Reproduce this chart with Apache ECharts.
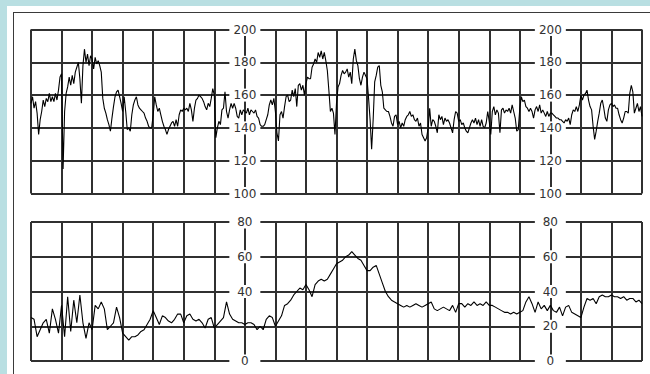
<!DOCTYPE html>
<html>
<head>
<meta charset="utf-8">
<script src="https://cdn.jsdelivr.net/npm/echarts@6/dist/echarts.min.js"></script>
<style>
  html, body { margin: 0; padding: 0; background: #b9dfe2; }
  #paper { position: absolute; left: 7px; top: 6px; width: 700px; height: 400px; background: #fff; }
  #frame { position: absolute; left: 13px; top: 11.5px; width: 700px; height: 400px; border: 1.5px solid #3a3a3a; }
  #box { position: absolute; left: 0; top: 0; width: 650px; height: 374px; }
</style>
</head>
<body>
<div id="paper"></div>
<div id="frame"></div>
<div id="box"></div>
<script>
// fetal heart rate (bpm), one value every 0.05 min, 0 -> 20 min
var fhrStep = 0.05;
var fhr = [
  155, 159, 152, 156, 149, 136, 145, 150, 157, 153, 158, 156, 161, 156, 159, 156, 161, 157, 163, 171,
  173, 115, 150, 161, 165, 171, 166, 172, 167, 174, 177, 180, 170, 155, 178, 188, 180, 185, 178, 184,
  182, 176, 183, 179, 181, 178, 174, 158, 152, 149, 145, 142, 138, 146, 153, 159, 162, 163, 159, 155,
  150, 159, 150, 139, 140, 138, 148, 154, 157, 159, 154, 152, 151, 150, 149, 146, 144, 141, 140, 140,
  148, 159, 154, 150, 152, 148, 144, 141, 139, 136, 139, 141, 143, 144, 141, 145, 141, 148, 151, 150,
  152, 151, 152, 150, 155, 151, 144, 152, 157, 158, 160, 159, 158, 156, 153, 151, 155, 153, 158, 164,
  160, 134, 140, 144, 142, 151, 152, 162, 150, 146, 151, 155, 152, 155, 152, 147, 146, 151, 148, 151,
  150, 149, 152, 148, 151, 150, 149, 151, 147, 146, 142, 141, 141, 142, 145, 148, 154, 157, 154, 158,
  150, 137, 132, 148, 150, 146, 153, 159, 160, 156, 157, 163, 159, 164, 153, 166, 167, 163, 166, 160,
  167, 171, 170, 170, 177, 179, 182, 180, 186, 183, 187, 182, 186, 181, 175, 163, 150, 152, 149, 136,
  155, 165, 167, 172, 175, 173, 174, 176, 171, 174, 167, 182, 188, 181, 178, 170, 166, 171, 174, 172,
  170, 158, 145, 127, 145, 168, 172, 177, 178, 166, 162, 152, 151, 150, 150, 147, 143, 141, 147, 148,
  142, 144, 140, 143, 141, 145, 147, 148, 150, 147, 148, 145, 144, 146, 141, 143, 136, 134, 132, 134,
  140, 152, 141, 145, 144, 141, 137, 148, 145, 147, 142, 146, 144, 145, 143, 140, 137, 145, 150, 149,
  144, 145, 142, 143, 140, 138, 137, 140, 143, 145, 143, 146, 142, 145, 141, 145, 141, 140, 143, 150,
  144, 136, 150, 153, 148, 151, 149, 137, 151, 152, 149, 151, 150, 152, 149, 154, 150, 146, 138, 139,
  152, 159, 156, 157, 153, 152, 150, 152, 150, 146, 151, 153, 150, 154, 149, 151, 149, 147, 150, 147,
  149, 149, 148, 147, 146, 146, 145, 145, 144, 143, 145, 144, 146, 142, 148, 151, 150, 153, 150, 154,
  160, 157, 160, 161, 163, 157, 153, 151, 141, 133, 138, 144, 149, 155, 157, 152, 146, 144, 151, 154,
  155, 153, 154, 152, 152, 148, 145, 143, 146, 150, 150, 149, 161, 166, 162, 149, 152, 155, 150, 153,
  147
];

// uterine activity, one value every 0.1 min, 0 -> 20 min
var ucStep = 0.1;
var uc = [
  25, 24, 14, 18, 22, 24, 16, 30, 24, 16,
  32, 14, 37, 17, 35, 22, 38, 22, 13, 22,
  18, 32, 30, 34, 30, 18, 20, 22, 31, 25,
  16, 14, 12, 14, 14, 15, 17, 18, 21, 24,
  29, 25, 21, 26, 25, 23, 22, 24, 27, 27,
  22, 26, 27, 24, 23, 24, 22, 19, 24, 25,
  19, 21, 23, 25, 34, 27, 24, 23, 22, 22,
  21, 22, 22, 21, 18, 20, 18, 24, 26, 25,
  20, 23, 26, 32, 33, 35, 38, 40, 42, 41,
  44, 41, 37, 44, 46, 47, 46, 47, 50, 53,
  56, 57, 58, 60, 61, 63, 61, 59, 58, 55,
  52, 52, 54, 55, 50, 45, 40, 37, 35, 34,
  33, 32, 31, 32, 31, 32, 33, 32, 31, 32,
  33, 34, 30, 29, 30, 31, 30, 29, 32, 28,
  33, 33, 31, 33, 32, 34, 32, 33, 32, 34,
  32, 32, 31, 30, 29, 28, 28, 27, 28, 27,
  28, 29, 34, 37, 33, 28, 34, 30, 32, 29,
  32, 29, 28, 31, 26, 31, 32, 28, 27, 26,
  25, 31, 36, 35, 36, 33, 37, 38, 37, 37,
  38, 37, 37, 36, 37, 35, 36, 36, 34, 35,
  33
];

// scale labels printed on the paper
var fhrTicks = [100, 120, 140, 160, 180, 200];
var ucTicks = [0, 20, 40, 60, 80];
var scaleCols = [7, 17];          // minute lines carrying the scale
var hiddenTicks = [[7, 20]];      // covered by the trace on the paper

// canvas renderer dropped some split lines, svg draws them all
var myChart = echarts.init(document.getElementById('box'), null, { renderer: 'svg' });

function toPairs(arr, step) {
    return arr.map(function (v, i) {
        return [+(i * step).toFixed(2), v];
    });
}
function labelPairs(ticks) {
    var out = [];
    scaleCols.forEach(function (c) {
        ticks.forEach(function (v) {
            var hidden = hiddenTicks.some(function (h) { return h[0] === c && h[1] === v; });
            if (!hidden) out.push([c, v]);
        });
    });
    return out;
}

function gridLine() {
    return { show: true, showMinLine: true, showMaxLine: true, lineStyle: { color: '#303030', width: 2 } };
}
function mainX(idx) {
    return {
        type: 'value', gridIndex: idx, min: 0, max: 20, interval: 1,
        axisLine: { show: false }, axisTick: { show: false }, axisLabel: { show: false },
        splitLine: gridLine(), z: 1
    };
}
function mainY(idx, min, max) {
    return {
        type: 'value', gridIndex: idx, min: min, max: max, interval: 20,
        axisLine: { show: false }, axisTick: { show: false }, axisLabel: { show: false },
        splitLine: gridLine(), z: 1
    };
}
// scale numbers: a white box (the symbol) that cuts the grid lines, text on top
function scaleSeries(idx, ticks) {
    return {
        type: 'scatter', xAxisIndex: idx, yAxisIndex: idx, z: 5, silent: true,
        symbol: 'rect', symbolSize: [31, 13], clip: false,
        itemStyle: { color: '#fff', opacity: 1 },
        data: labelPairs(ticks),
        label: {
            show: true, position: 'inside',
            formatter: function (p) { return p.value[1]; },
            color: '#333', fontFamily: 'DejaVu Sans', fontSize: 12
        }
    };
}
function trace(idx, arr, step) {
    return {
        type: 'line', xAxisIndex: idx, yAxisIndex: idx, z: 10, silent: true,
        data: toPairs(arr, step), showSymbol: false,
        lineStyle: { color: '#000', width: 1.1 }
    };
}

var option = {
    animation: false,
    grid: [
        { left: 31, top: 29.5, width: 611, height: 164, outerBoundsMode: 'none' },
        { left: 31, top: 222, width: 611, height: 139, outerBoundsMode: 'none' }
    ],
    xAxis: [mainX(0), mainX(1)],
    yAxis: [mainY(0, 100, 200), mainY(1, 0, 80)],
    series: [
        scaleSeries(0, fhrTicks),
        scaleSeries(1, ucTicks),
        trace(0, fhr, fhrStep),
        trace(1, uc, ucStep)
    ]
};
myChart.setOption(option);
</script>
</body>
</html>
